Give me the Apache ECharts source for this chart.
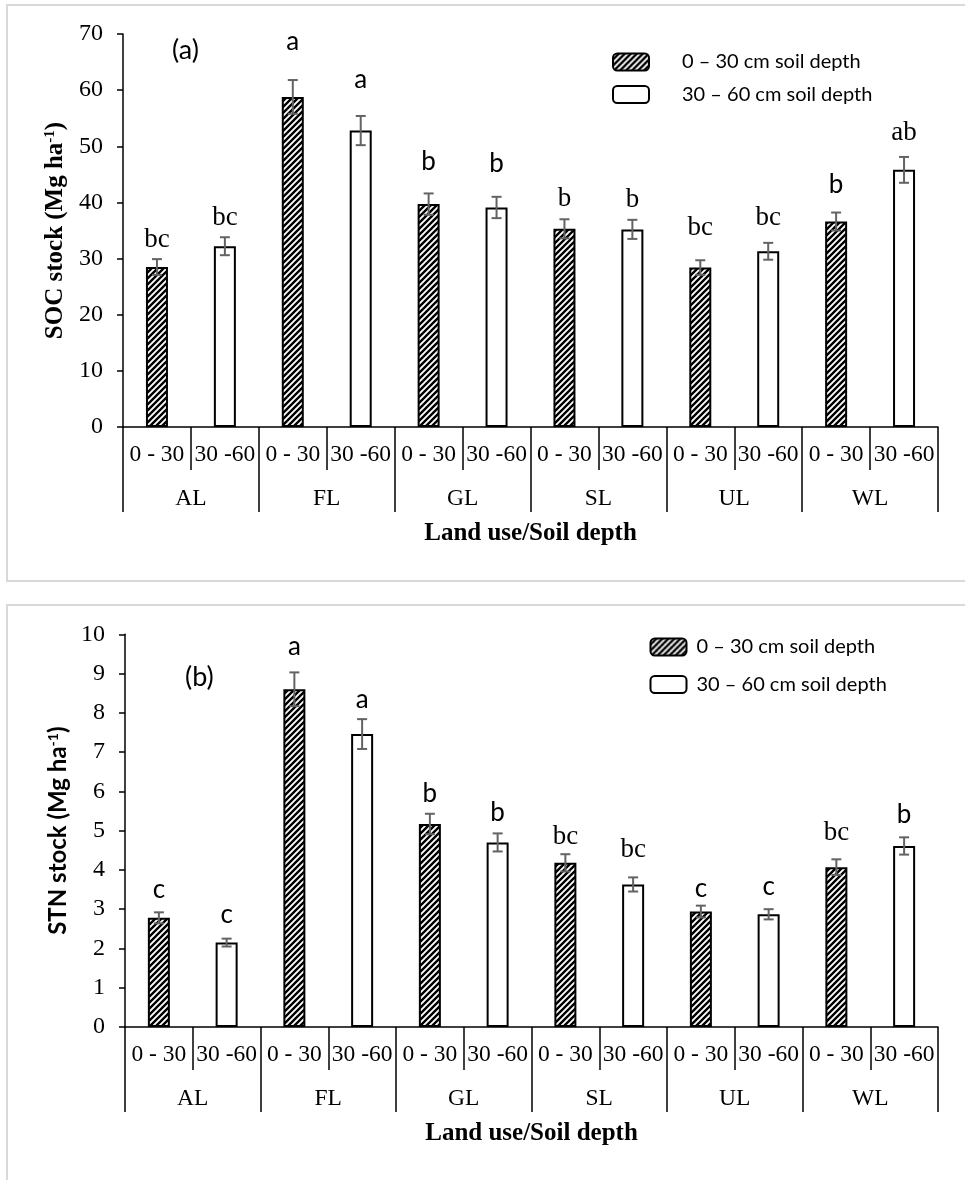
<!DOCTYPE html>
<html>
<head>
<meta charset="utf-8">
<script src="https://cdn.jsdelivr.net/npm/echarts@6/dist/echarts.min.js"></script>
<style>
html,body{margin:0;padding:0;background:#fff;}
#chart{width:965px;height:1180px;}
</style>
</head>
<body>
<div id="chart"></div>
<script>
// ---------- data ----------
const landUses = ['AL', 'FL', 'GL', 'SL', 'UL', 'WL'];
const depthLabels = ['0 - 30', '30 -60'];
const seriesNames = ['0 \u2013 30 cm soil depth', '30 \u2013 60 cm soil depth'];

// (a) SOC stock, Mg ha-1
const socShallow = [28.5, 58.8, 39.7, 35.3, 28.4, 36.6];
const socDeep = [32.2, 52.8, 39.1, 35.2, 31.3, 45.8];
const socShallowErr = [1.4, 3.0, 1.9, 1.7, 1.3, 1.6];
const socDeepErr = [1.6, 2.6, 1.9, 1.7, 1.5, 2.3];
const socShallowLetters = ['bc', 'a', 'b', 'b', 'bc', 'b'];
const socDeepLetters = ['bc', 'a', 'b', 'b', 'bc', 'ab'];
const socShallowLetterAt = [33.3, 68.6, 47.2, 40.6, 35.4, 43.1];
const socDeepLetterAt = [37.2, 61.8, 47.0, 40.4, 37.2, 52.4];
const socTicks = {min: 0, max: 70, interval: 10};

// (b) STN stock, Mg ha-1
const stnShallow = [2.78, 8.60, 5.17, 4.18, 2.94, 4.07];
const stnDeep = [2.15, 7.46, 4.70, 3.63, 2.87, 4.61];
const stnShallowErr = [0.14, 0.43, 0.26, 0.22, 0.15, 0.20];
const stnDeepErr = [0.10, 0.38, 0.23, 0.18, 0.13, 0.22];
const stnShallowLetters = ['c', 'a', 'b', 'bc', 'c', 'bc'];
const stnDeepLetters = ['c', 'a', 'b', 'bc', 'c', 'b'];
const stnShallowLetterAt = [3.49, 9.69, 5.95, 4.85, 3.53, 4.93];
const stnDeepLetterAt = [2.85, 8.34, 5.46, 4.51, 3.57, 5.40];
const stnTicks = {min: 0, max: 10, interval: 1};

// ---------- styling helpers ----------
const SERIF = '"Liberation Serif", "Times New Roman", serif';
const SANS = 'Lato, "Open Sans", sans-serif';
// letters drawn in serif (the rest in sans), per panel
const serifLettersA = {bc: true, ab: true};
const serifBIndexA = {3: true};   // SL "b" in panel (a) is serif
const serifLettersB = {bc: true, ab: true};

function makeHatch() {
  const s = 6;
  const c = document.createElement('canvas');
  c.width = s; c.height = s;
  const g = c.getContext('2d');
  g.fillStyle = '#fff';
  g.fillRect(0, 0, s, s);
  g.strokeStyle = '#000';
  g.lineWidth = 2.4;
  g.beginPath();
  for (let k = -1; k <= 1; k++) {
    g.moveTo(k * s - 1, s + 1);
    g.lineTo(k * s + s + 1, -1);
  }
  g.stroke();
  return c;
}
const hatch = {image: makeHatch(), repeat: 'repeat'};

const categories = [];
landUses.forEach(() => depthLabels.forEach(d => categories.push(d)));

function barData(vals, offset) {
  const out = categories.map(() => null);
  vals.forEach((v, i) => { out[2 * i + offset] = v; });
  return out;
}
function errData(vals, errs, offset) {
  return vals.map((v, i) => [2 * i + offset, v - errs[i], v + errs[i]]);
}
function letterData(letters, at, offset) {
  return letters.map((t, i) => [2 * i + offset, at[i], t, i]);
}

function errorRender(params, api) {
  const x = api.value(0);
  const lo = api.coord([x, api.value(1)]);
  const hi = api.coord([x, api.value(2)]);
  const cap = 5;
  const st = {stroke: '#636363', lineWidth: 2};
  return {
    type: 'group',
    children: [
      {type: 'line', shape: {x1: lo[0], y1: lo[1], x2: hi[0], y2: hi[1]}, style: st},
      {type: 'line', shape: {x1: lo[0] - cap, y1: lo[1], x2: lo[0] + cap, y2: lo[1]}, style: st},
      {type: 'line', shape: {x1: hi[0] - cap, y1: hi[1], x2: hi[0] + cap, y2: hi[1]}, style: st}
    ]
  };
}
function letterRender(panel) {
  return function (params, api) {
    const p = api.coord([api.value(0), api.value(1)]);
    const t = api.value(2);
    const i = api.value(3);
    let serif;
    if (panel === 'a') serif = serifLettersA[t] || (t === 'b' && serifBIndexA[i]);
    else serif = serifLettersB[t];
    return {
      type: 'text',
      x: p[0], y: p[1],
      style: {
        text: t,
        fill: '#000',
        font: serif ? ('27px ' + SERIF) : ('26px ' + SANS),
        textAlign: 'center',
        textVerticalAlign: 'middle'
      }
    };
  };
}

const axisLineStyle = {color: '#000', width: 1.5};

function xAxes(gridIndex) {
  return [
    {
      type: 'category', gridIndex, data: categories, position: 'bottom',
      axisLine: {show: true, lineStyle: axisLineStyle},
      axisTick: {show: true, length: 43, interval: 0, alignWithLabel: false, lineStyle: axisLineStyle},
      axisLabel: {interval: 0, margin: 16, fontFamily: SERIF, fontSize: 23.5, color: '#000'},
      splitLine: {show: false}
    },
    {
      type: 'category', gridIndex, data: landUses, position: 'bottom',
      axisLine: {show: false},
      axisTick: {show: true, length: 85, interval: 0, alignWithLabel: false, lineStyle: axisLineStyle},
      axisLabel: {interval: 0, margin: 60, fontFamily: SERIF, fontSize: 23.5, color: '#000'},
      splitLine: {show: false},
      name: 'Land use/Soil depth', nameLocation: 'middle', nameGap: 94,
      nameTextStyle: {fontFamily: SERIF, fontSize: 25, fontWeight: 'bold', color: '#000'}
    }
  ];
}

function yAxis(gridIndex, ticks, name, fam, size, gap) {
  return {
    type: 'value', gridIndex, min: ticks.min, max: ticks.max, interval: ticks.interval,
    axisLine: {show: true, lineStyle: axisLineStyle},
    axisTick: {show: true, length: 6, lineStyle: axisLineStyle},
    axisLabel: {margin: 20, fontFamily: SERIF, fontSize: 24, color: '#000'},
    splitLine: {show: false},
    name: name + ' (Mg ha{sup|-1})',
    nameLocation: 'middle', nameGap: gap, nameRotate: 90,
    nameTextStyle: {
      fontFamily: fam, fontSize: size, fontWeight: 'bold', color: '#000',
      rich: {sup: {fontFamily: fam, fontSize: Math.round(size * 0.6), fontWeight: 'bold', color: '#000', verticalAlign: 'top', lineHeight: 14}}
    }
  };
}

function panelSeries(gi, sh, dp, shE, dpE, shL, dpL, shAt, dpAt, panel) {
  const xi = gi * 2, yi = gi;
  return [
    {
      type: 'bar', name: seriesNames[0], xAxisIndex: xi, yAxisIndex: yi,
      data: barData(sh, 0), barWidth: 22, barGap: '-100%',
      itemStyle: {color: hatch, borderColor: '#000', borderWidth: 2},
      emphasis: {disabled: true}
    },
    {
      type: 'bar', name: seriesNames[1], xAxisIndex: xi, yAxisIndex: yi,
      data: barData(dp, 1), barWidth: 22, barGap: '-100%',
      itemStyle: {color: '#fff', borderColor: '#000', borderWidth: 2},
      emphasis: {disabled: true}
    },
    {
      type: 'custom', xAxisIndex: xi, yAxisIndex: yi, renderItem: errorRender,
      data: errData(sh, shE, 0).concat(errData(dp, dpE, 1)), z: 5, silent: true
    },
    {
      type: 'custom', xAxisIndex: xi, yAxisIndex: yi, renderItem: letterRender(panel),
      data: letterData(shL, shAt, 0).concat(letterData(dpL, dpAt, 1)), z: 6, silent: true
    }
  ];
}

function legendItem(name, left, top, pad) {
  return {
    data: [name], orient: 'vertical', left, top, padding: 0,
    itemWidth: 36, itemHeight: 17, selectedMode: false,
    itemStyle: {borderColor: '#000', borderWidth: 2},
    textStyle: {fontFamily: SANS, fontSize: 20, color: '#000', lineHeight: 17, padding: [0, 0, 0, pad]}
  };
}

const option = {
  animation: false,
  backgroundColor: '#fff',
  graphic: [
    {type: 'rect', shape: {x: 7, y: 5, width: 980, height: 576}, style: {fill: 'none', stroke: '#d9d9d9', lineWidth: 2}, silent: true},
    {type: 'rect', shape: {x: 7, y: 605, width: 980, height: 600}, style: {fill: 'none', stroke: '#d9d9d9', lineWidth: 2}, silent: true}
  ],
  title: [
    {text: '(a)', left: 172, top: 37, padding: 0, textStyle: {fontFamily: SANS, fontSize: 27, fontWeight: 'normal', color: '#000'}},
    {text: '(b)', left: 185, top: 664, padding: 0, textStyle: {fontFamily: SANS, fontSize: 27, fontWeight: 'normal', color: '#000'}}
  ],
  legend: [
    legendItem(seriesNames[0], 612, 52, 28),
    legendItem(seriesNames[1], 612, 84.5, 28),
    legendItem(seriesNames[0], 649.5, 637, 5),
    legendItem(seriesNames[1], 649.5, 674.5, 5)
  ],
  grid: [
    {left: 123, top: 34, width: 815, height: 393},
    {left: 125, top: 634.3, width: 813, height: 392.7}
  ],
  xAxis: xAxes(0).concat(xAxes(1)),
  yAxis: [
    yAxis(0, socTicks, 'SOC stock', SERIF, 25, 54),
    yAxis(1, stnTicks, 'STN stock', SANS, 24, 55)
  ],
  series: panelSeries(0, socShallow, socDeep, socShallowErr, socDeepErr, socShallowLetters, socDeepLetters, socShallowLetterAt, socDeepLetterAt, 'a')
    .concat(panelSeries(1, stnShallow, stnDeep, stnShallowErr, stnDeepErr, stnShallowLetters, stnDeepLetters, stnShallowLetterAt, stnDeepLetterAt, 'b'))
};

const chart = echarts.init(document.getElementById('chart'), null, {renderer: 'canvas'});
chart.setOption(option);
</script>
</body>
</html>
